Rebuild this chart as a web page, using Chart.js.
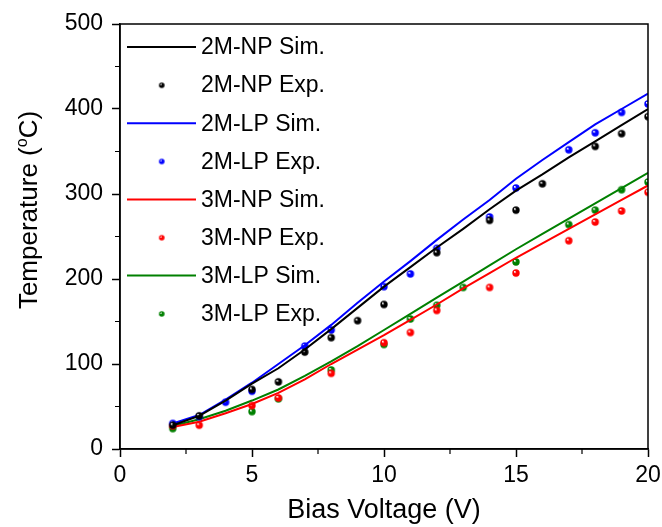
<!DOCTYPE html>
<html>
<head>
<meta charset="utf-8">
<script src="https://cdn.jsdelivr.net/npm/chart.js@4"></script>
<style>
  html, body { margin: 0; padding: 0; background: #ffffff; }
  #wrap { width: 662px; height: 527px; }
</style>
</head>
<body>
<div id="wrap"><canvas id="c" width="662" height="527"></canvas></div>
<script>
// ---------- data ----------
const simVoltage = [2, 3, 4, 5, 6, 7, 8, 9, 10, 11, 12, 13, 14, 15, 16, 17, 18, 19, 20];
const sim2MNP = [28, 39, 57, 77, 95, 117, 141, 166, 191, 214, 237, 259, 282, 304, 323, 343, 362, 381, 400];
const sim2MLP = [30, 40, 58, 78, 100, 122, 146, 172, 197, 221, 246, 270, 293, 318, 340, 361, 382, 400, 418];
const sim3MNP = [26, 32, 42, 53, 66, 82, 100, 117, 134, 152, 170, 189, 207, 225, 242, 259, 276, 293, 310];
const sim3MLP = [27, 35, 45, 57, 70, 86, 103, 121, 140, 159, 178, 197, 216, 235, 253, 271, 289, 307, 325];

const exp2MNPVoltage = [2, 3, 5, 6, 7, 8, 9, 10, 12, 14, 15, 16, 18, 19, 20];
const exp2MNP = [28, 39, 70, 79, 114, 131, 151, 170, 231, 269, 281, 312, 356, 371, 391];
const exp2MLPVoltage = [2, 3, 4, 5, 7, 8, 10, 11, 12, 14, 15, 17, 18, 19, 20];
const exp2MLP = [30, 38, 55, 68, 121, 140, 191, 206, 236, 273, 307, 352, 372, 396, 406];
const exp3MNPVoltage = [2, 3, 5, 6, 8, 10, 11, 12, 14, 15, 17, 18, 19, 20];
const exp3MNP = [27, 28, 51, 60, 89, 125, 137, 163, 190, 207, 245, 267, 280, 302];
const exp3MLPVoltage = [2, 5, 6, 8, 10, 11, 12, 13, 15, 17, 18, 19, 20];
const exp3MLP = [24, 44, 59, 93, 123, 153, 169, 190, 220, 264, 281, 305, 314];

const seriesNames = ['2M-NP Sim.', '2M-NP Exp.', '2M-LP Sim.', '2M-LP Exp.', '3M-NP Sim.', '3M-NP Exp.', '3M-LP Sim.', '3M-LP Exp.'];
const xTicks = [0, 5, 10, 15, 20];
const yTicks = [0, 100, 200, 300, 400, 500];

// ---------- styling ----------
const FONT = '"Liberation Sans", Arial, Helvetica, sans-serif';
const C_BLACK = '#000000', C_BLUE = '#0000ff', C_RED = '#ff0000', C_GREEN = '#008000';

function sphere(color, r) {
  const s = Math.ceil(r * 2 + 2);
  const cv = document.createElement('canvas');
  cv.width = s; cv.height = s;
  const g = cv.getContext('2d');
  const cx = s / 2, cy = s / 2;
  const grad = g.createRadialGradient(cx - r * 0.35, cy - r * 0.35, 0.3, cx, cy, r);
  grad.addColorStop(0, '#ffffff');
  grad.addColorStop(0.35, color);
  grad.addColorStop(1, color);
  g.fillStyle = grad;
  g.beginPath(); g.arc(cx, cy, r, 0, Math.PI * 2); g.fill();
  return cv;
}

const pts = (xs, ys) => xs.map((x, i) => ({x: x, y: ys[i]}));

function simSet(label, data, color) {
  return { label, data: pts(simVoltage, data), showLine: true, borderColor: color, backgroundColor: color,
           borderWidth: 2, pointRadius: 0, pointHoverRadius: 0, tension: 0, fill: false, kind: 'line' };
}
function expSet(label, xs, ys, color) {
  return { label, data: pts(xs, ys), showLine: false, borderColor: color, backgroundColor: color,
           pointStyle: sphere(color, 3.7), pointRadius: 3.7, kind: 'dot', dotColor: color };
}

const datasets = [
  simSet(seriesNames[0], sim2MNP, C_BLACK),
  expSet(seriesNames[1], exp2MNPVoltage, exp2MNP, C_BLACK),
  simSet(seriesNames[2], sim2MLP, C_BLUE),
  expSet(seriesNames[3], exp2MLPVoltage, exp2MLP, C_BLUE),
  simSet(seriesNames[4], sim3MNP, C_RED),
  expSet(seriesNames[5], exp3MNPVoltage, exp3MNP, C_RED),
  simSet(seriesNames[6], sim3MLP, C_GREEN),
  expSet(seriesNames[7], exp3MLPVoltage, exp3MLP, C_GREEN)
];

const decor = {
  id: 'decor',
  beforeDraw(chart) {
    const ctx = chart.ctx;
    ctx.save();
    ctx.fillStyle = '#ffffff';
    ctx.fillRect(0, 0, chart.width, chart.height);
    ctx.restore();
  },
  afterDraw(chart) {
    const ctx = chart.ctx;
    const a = chart.chartArea;
    const xs = chart.scales.x, ys = chart.scales.y;
    ctx.save();
    // frame
    ctx.strokeStyle = '#000';
    ctx.lineWidth = 1.5;
    ctx.strokeRect(a.left, a.top, a.right - a.left, a.bottom - a.top);
    // minor ticks
    ctx.lineWidth = 1.2;
    ctx.beginPath();
    for (let v = 2.5; v < 20; v += 5) {
      const px = xs.getPixelForValue(v);
      ctx.moveTo(px, a.bottom); ctx.lineTo(px, a.bottom + 5);
    }
    for (let v = 50; v < 500; v += 100) {
      const py = ys.getPixelForValue(v);
      ctx.moveTo(a.left, py); ctx.lineTo(a.left - 5, py);
    }
    ctx.stroke();
    // y-axis title with superscript o
    ctx.translate(37, 210);
    ctx.rotate(-Math.PI / 2);
    ctx.fillStyle = '#000';
    ctx.textBaseline = 'alphabetic';
    const big = '26px ' + FONT, small = '16px ' + FONT;
    ctx.font = big;
    const p1 = 'Temperature (', p3 = 'C)';
    const w1 = ctx.measureText(p1).width, w3 = ctx.measureText(p3).width;
    ctx.font = small;
    const w2 = ctx.measureText('o').width;
    const total = w1 + w2 + w3;
    let x0 = -total / 2;
    ctx.font = big; ctx.fillText(p1, x0, 0);
    ctx.font = small; ctx.fillText('o', x0 + w1, -10);
    ctx.font = big; ctx.fillText(p3, x0 + w1 + w2, 0);
    ctx.restore();

    // legend inside the plot
    ctx.save();
    ctx.font = '23px ' + FONT;
    ctx.textBaseline = 'middle';
    ctx.fillStyle = '#000';
    chart.data.datasets.forEach((ds, i) => {
      const y = 47 + i * 38.1;
      if (ds.kind === 'line') {
        ctx.strokeStyle = ds.borderColor;
        ctx.lineWidth = 2;
        ctx.beginPath(); ctx.moveTo(127, y); ctx.lineTo(196, y); ctx.stroke();
      } else {
        ctx.drawImage(sphere(ds.dotColor, 2.8), 161.5 - 3.8, y - 3.8);
      }
      ctx.fillStyle = '#000';
      ctx.fillText(ds.label, 201, y + 1);
    });
    ctx.restore();
  }
};

new Chart(document.getElementById('c'), {
  type: 'scatter',
  data: { datasets },
  plugins: [decor],
  options: {
    responsive: false,
    animation: false,
    events: [],
    layout: { padding: { top: 24, right: 14, left: 0, bottom: 0 } },
    plugins: { legend: { display: false }, tooltip: { enabled: false } },
    scales: {
      x: {
        type: 'linear', min: 0, max: 20,
        afterBuildTicks: (s) => { s.ticks = xTicks.map(v => ({value: v})); },
        afterFit: (s) => { s.height = 78; s.paddingLeft = 0; s.paddingRight = 0; },
        ticks: { font: { family: FONT, size: 23 }, color: '#000', padding: 5, maxRotation: 0 },
        grid: { drawOnChartArea: false, tickLength: 8, tickColor: '#000', tickWidth: 1.5, color: '#000' },
        border: { display: true, color: '#000', width: 1.5 },
        title: { display: true, text: 'Bias Voltage (V)', color: '#000', font: { family: FONT, size: 27 }, padding: { top: 0, bottom: 0 } }
      },
      y: {
        type: 'linear', min: 0, max: 500,
        afterBuildTicks: (s) => { s.ticks = yTicks.map(v => ({value: v})); },
        afterFit: (s) => { s.width = 120; s.paddingTop = 0; s.paddingBottom = 0; },
        ticks: { font: { family: FONT, size: 23 }, color: '#000', padding: 9 },
        grid: { drawOnChartArea: false, tickLength: 8, tickColor: '#000', tickWidth: 1.5, color: '#000' },
        border: { display: true, color: '#000', width: 1.5 },
        title: { display: false }
      }
    }
  }
});
</script>
</body>
</html>
